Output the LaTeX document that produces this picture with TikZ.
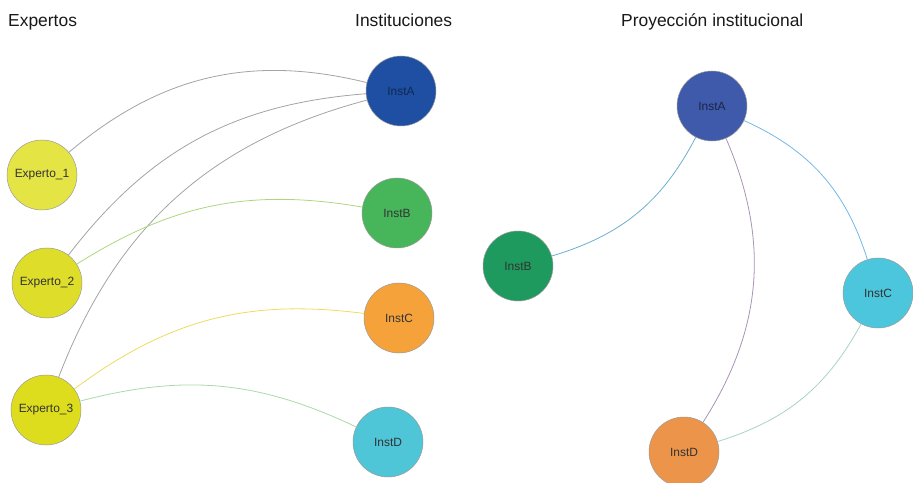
\documentclass[tikz,border=0pt]{standalone}
\usepackage{fontspec}
\setmainfont{Liberation Sans}
\usepackage{tikz}
\usetikzlibrary{positioning}
\definecolor{amarillo1}{HTML}{E4E445}
\definecolor{amarillo2}{HTML}{DEDE2A}
\definecolor{amarillo3}{HTML}{DDDD1E}
\definecolor{azulA}{HTML}{1F4FA3}
\definecolor{verdeB}{HTML}{47B55A}
\definecolor{naranjaC}{HTML}{F5A23A}
\definecolor{cianD}{HTML}{4FC5D8}
\definecolor{azulPA}{HTML}{3F5AAB}
\definecolor{verdePB}{HTML}{1E9A5E}
\definecolor{cianPC}{HTML}{4CC6DC}
\definecolor{naranjaPD}{HTML}{EB944A}
\definecolor{lineagris}{HTML}{A3A3A3}
\definecolor{lineaverde}{HTML}{ADD67E}
\definecolor{lineaamarilla}{HTML}{EDDC5C}
\definecolor{lineaverdeclaro}{HTML}{AAD9AA}
\definecolor{lineaazul}{HTML}{6AAED0}
\definecolor{lineaazulclaro}{HTML}{72B8E6}
\definecolor{lineamalva}{HTML}{A894B4}
\definecolor{lineaagua}{HTML}{A8D4C0}
\tikzstyle{nodo}=[circle, draw=gray!80, line width=0.5bp, minimum size=70bp, inner sep=0pt,
        text=black!80, font=\fontsize{12}{14}\selectfont]
\tikzstyle{titulo}=[anchor=base west, inner sep=0pt, text=black!90, font=\fontsize{17.5}{20}\selectfont]
\tikzstyle{enlace}=[line width=0.8bp, bend left=24]

\begin{document}
\begin{tikzpicture}[x=1bp, y=-1bp]
	\useasboundingbox (0,0) rectangle (913,483);

	\node (tExpertos) [titulo] at (8,27) {Expertos};
	\node (tInst) [titulo] at (355,27) {Instituciones};
	\node (tProy) [titulo] at (621,27) {Proyección institucional};

	\node (Exp1) [nodo, fill=amarillo1] at (42,175) {Experto\_1};
	\node (Exp2) [nodo, fill=amarillo2] at (47,283) {Experto\_2};
	\node (Exp3) [nodo, fill=amarillo3] at (46,410) {Experto\_3};

	\node (InstA) [nodo, fill=azulA, text=azulA!50!black] at (401,91) {InstA};
	\node (InstB) [nodo, fill=verdeB] at (397,213) {InstB};
	\node (InstC) [nodo, fill=naranjaC] at (399,318) {InstC};
	\node (InstD) [nodo, fill=cianD] at (388,442) {InstD};

	\node (PInstA) [nodo, fill=azulPA, text=azulPA!40!black] at (712,106) {InstA};
	\node (PInstB) [nodo, fill=verdePB] at (518,266) {InstB};
	\node (PInstC) [nodo, fill=cianPC] at (878,293) {InstC};
	\node (PInstD) [nodo, fill=naranjaPD] at (684,452) {InstD};

\draw[enlace, lineagris, bend left=27] (Exp1) to (InstA);
\draw[enlace, lineagris, bend left=24] (Exp2) to (InstA);
\draw[enlace, lineagris, bend left=27] (Exp3) to (InstA);
\draw[enlace, lineaverde, bend left=21] (Exp2) to (InstB);
\draw[enlace, lineaamarilla, bend left=22] (Exp3) to (InstC);
\draw[enlace, lineaverdeclaro, bend left=20] (Exp3) to (InstD);

\draw[enlace, lineaazul, bend left=23] (PInstA) to (PInstB);
\draw[enlace, lineamalva, bend left=28] (PInstA) to (PInstD);
\draw[enlace, lineaazulclaro, bend left=24] (PInstA) to (PInstC);
\draw[enlace, lineaagua, bend left=22] (PInstC) to (PInstD);

\end{tikzpicture}
\end{document}
